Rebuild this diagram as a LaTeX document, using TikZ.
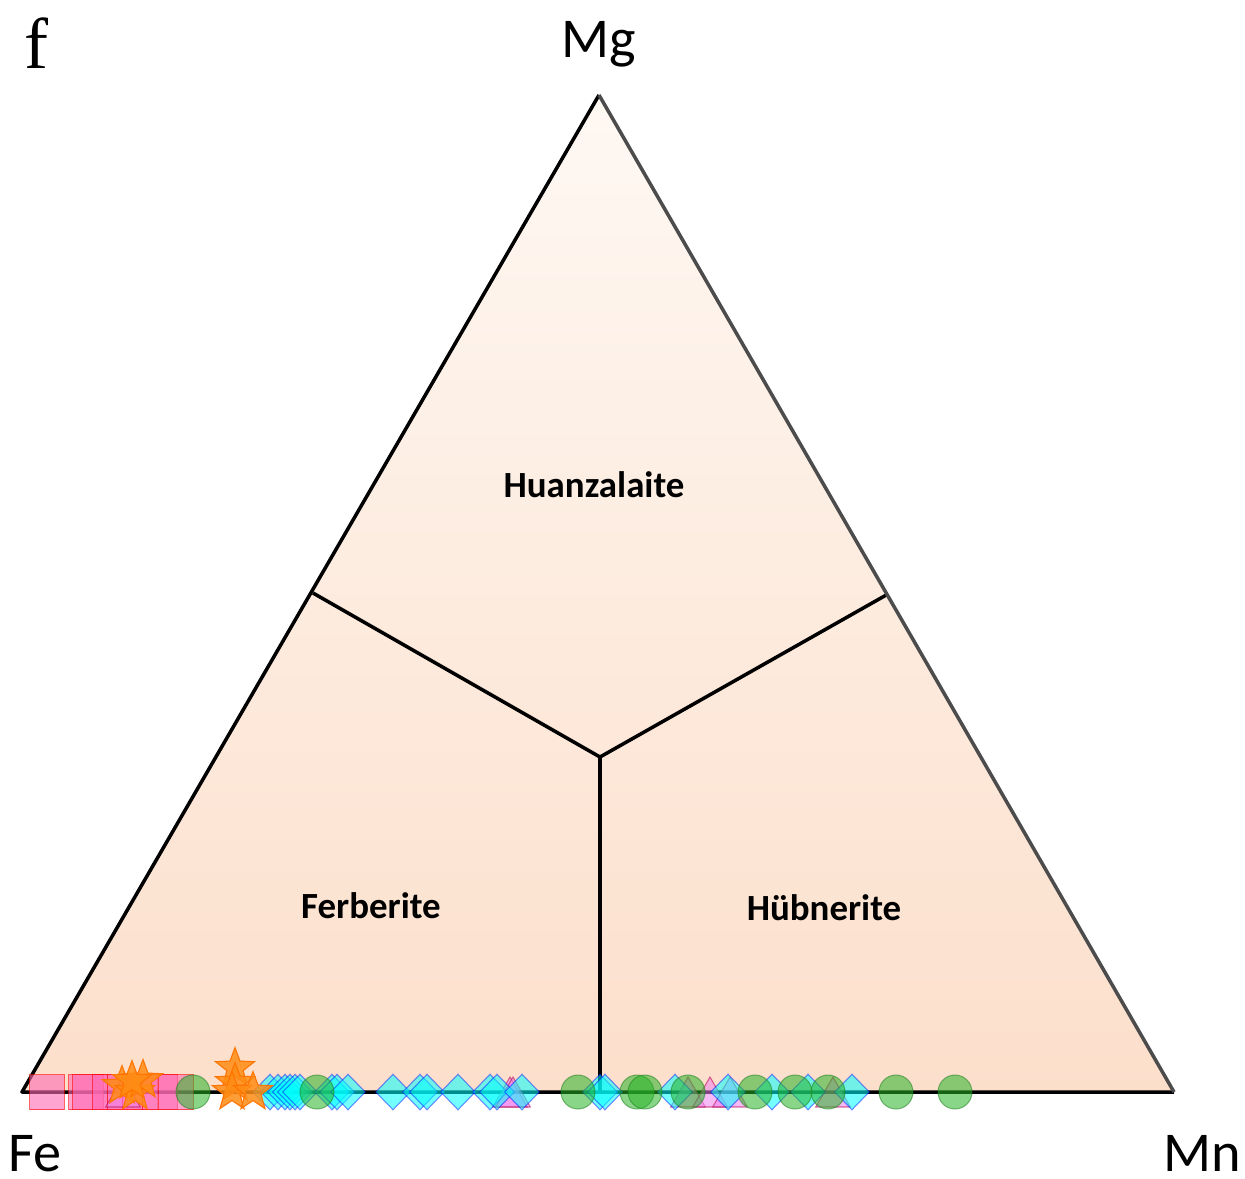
\documentclass[tikz,border=0pt]{standalone}
\usepackage{fontspec}
\setmainfont{Carlito}
\newfontfamily\serifletter{Liberation Serif}
\usepackage{tikz}
\usetikzlibrary{shapes,shapes.geometric,positioning}
\definecolor{peachtop}{RGB}{254,248,243}
\definecolor{peachbot}{RGB}{252,223,203}
\definecolor{sqpink}{RGB}{255,105,180}
\definecolor{dotgreen}{RGB}{40,180,40}
\definecolor{diacyan}{RGB}{0,255,255}
\definecolor{trviolet}{RGB}{238,130,238}
\definecolor{starorange}{RGB}{255,140,20}
\tikzstyle{vertexlabel} = [font=\fontsize{32}{38}\selectfont, anchor=base, inner sep=0pt]
\tikzstyle{fieldlabel} = [font=\fontsize{21}{25}\selectfont\bfseries, anchor=base]
\tikzstyle{edge} = [line width=2pt, line join=round]
\tikzstyle{sqmark} = [rectangle, minimum size=0.7cm, inner sep=0pt, fill=sqpink, fill opacity=0.6, draw=red, draw opacity=0.6, line width=0.6pt]
\tikzstyle{dotmark} = [circle, minimum size=0.68cm, inner sep=0pt, fill=dotgreen, fill opacity=0.55, draw=dotgreen!70!black, draw opacity=0.5, line width=0.6pt]
\tikzstyle{diamark} = [diamond, aspect=1, minimum width=0.7cm, minimum height=0.72cm, inner sep=0pt, fill=diacyan, fill opacity=0.55, draw=blue, draw opacity=0.45, line width=0.6pt]
\tikzstyle{trimark} = [regular polygon, regular polygon sides=3, minimum size=0.8cm, inner sep=0pt, fill=trviolet, fill opacity=0.55, draw=purple!80!violet, draw opacity=0.55, line width=0.6pt]
\tikzstyle{starmark} = [star, star points=5, star point ratio=2.4, minimum size=0.82cm, inner sep=0pt, fill=starorange, fill opacity=0.85, draw=orange!90!red, line width=0.6pt]

\begin{document}
\begin{tikzpicture}[x=0.02cm,y=-0.02cm]
    \useasboundingbox (0,0) rectangle (1245,1178);

    \coordinate (Fe) at (22,1092);
    \coordinate (Mn) at (1174,1092);
    \coordinate (Mg) at (599,95);
    \coordinate (leftcut) at (313,593);
    \coordinate (rightcut) at (888,594);
    \coordinate (center) at (600,757);
    \coordinate (basecut) at (600,1092);

    % triangle field
    \shade[top color=peachtop, bottom color=peachbot] (Fe) -- (Mg) -- (Mn) -- cycle;

    % field borders
    \draw[edge] (leftcut) -- (center) -- (rightcut);
    \draw[edge] (center) -- (basecut);
    \draw[edge] (Mn) -- (Fe) -- (Mg);
    \draw[edge, black!70] (Mg) -- (Mn);

    % labels
    \node[vertexlabel] (lblMg) at (599,57) {Mg};
    \node[vertexlabel] (lblFe) at (35,1171) {Fe};
    \node[vertexlabel] (lblMn) at (1202,1171) {Mn};
    \node[font=\serifletter\fontsize{41}{48}\selectfont, anchor=base] (panel) at (36,68) {f};
    \node[fieldlabel] (huan) at (594,497) {Huanzalaite};
    \node[fieldlabel] (ferb) at (371,918) {Ferberite};
    \node[fieldlabel] (hueb) at (824,920) {Hübnerite};

    % data points
    \foreach \x [count=\i] in {47,86,90,110,125,140,160,176}
        \node[sqmark] (sq\i) at (\x,1092) {};
    \foreach \x [count=\i] in {123,510,513,688,710,730,833}
        \node[trimark] (tri\i) at (\x,1097) {};
    \foreach \x [count=\i] in {270,278,285,290,295,300,332,337,348,393,420,427,458,490,497,522,600,605,675,728,772,808,852}
        \node[diamark] (dia\i) at (\x,1092) {};
    \foreach \x [count=\i] in {193,317,578,637,645,688,755,795,828,896,955}
        \node[dotmark] (dot\i) at (\x,1092) {};
    \foreach \x/\y [count=\i] in {122/1086,135/1092,143/1080,132/1081,235/1068,235/1083,232/1092,253/1092}
        \node[starmark] (st\i) at (\x,\y) {};
\end{tikzpicture}
\end{document}
